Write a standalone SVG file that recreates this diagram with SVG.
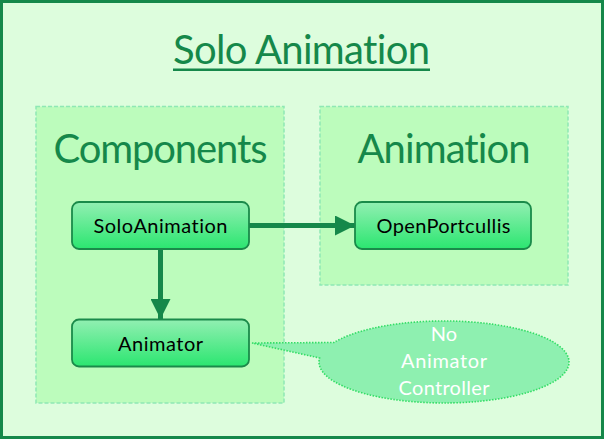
<svg xmlns="http://www.w3.org/2000/svg" width="604" height="439" viewBox="0 0 604 439">
<defs>
<linearGradient id="ng" x1="0" y1="0" x2="0" y2="1">
<stop offset="0" stop-color="#92efb2"/>
<stop offset="1" stop-color="#2be670"/>
</linearGradient>
<marker id="ah" markerWidth="4" markerHeight="4" refX="4" refY="2" orient="auto" markerUnits="strokeWidth" viewBox="0 0 4 4">
<path d="M0,0 L4,2 L0,4 Z" fill="#15884a"/>
</marker>
<style>
.t{font-family:"Lato","Open Sans","Liberation Sans",sans-serif;font-variant-ligatures:none;}
.head{fill:#15884a;font-size:40px;text-anchor:middle;}
.panel{fill:#bcfcbc;stroke:#8ee8b4;stroke-width:1.5;stroke-dasharray:4 2;}
.node{fill:url(#ng);stroke:#1a8a4a;stroke-width:1.8;}
.lbl{fill:#000;font-size:20px;text-anchor:middle;}
.conn{stroke:#15884a;stroke-width:5;fill:none;marker-end:url(#ah);}
.call{fill:#8ef0b0;stroke:#33dd66;stroke-width:1.6;stroke-dasharray:1.5 1.5;}
.ct{fill:#fff;font-size:20px;text-anchor:middle;}
</style>
</defs>
<rect x="1.5" y="1.5" width="601" height="436" fill="#ddfddd" stroke="#15884a" stroke-width="3"/>
<g id="title">
<text class="t" x="301.5" y="64" font-size="40" fill="#15884a" text-anchor="middle" textLength="257">Solo Animation</text>
<rect x="173" y="68.5" width="257" height="2.5" fill="#15884a"/>
</g>
<g id="components">
<rect class="panel" x="36" y="106.5" width="248" height="296.5"/>
<text class="t head" x="160.5" y="163" textLength="214">Components</text>
</g>
<g id="animation">
<rect class="panel" x="320" y="106.5" width="248" height="178.5"/>
<text class="t head" x="444" y="163" textLength="173">Animation</text>
</g>
<g id="connectors">
<line class="conn" x1="249" y1="225.5" x2="355" y2="225.5"/>
<line class="conn" x1="160.5" y1="249" x2="160.5" y2="319"/>
</g>
<g id="soloanimation">
<rect class="node" x="72" y="202" width="177" height="47" rx="7"/>
<text class="t lbl" x="160.5" y="233" textLength="134">SoloAnimation</text>
</g>
<g id="openportcullis">
<rect class="node" x="355" y="202" width="176" height="47" rx="7"/>
<text class="t lbl" x="443.5" y="233" textLength="134">OpenPortcullis</text>
</g>
<g id="animator">
<rect class="node" x="72" y="319.5" width="177" height="47" rx="7"/>
<text class="t lbl" x="160.5" y="350.5" textLength="85">Animator</text>
</g>
<g id="callout">
<path class="call" d="M252,343 L334,342.5 A125,41 0 1 1 319.6,358 Z"/>
<text class="t ct" x="444" y="341">No</text>
<text class="t ct" x="444" y="368" textLength="86">Animator</text>
<text class="t ct" x="444" y="395" textLength="91">Controller</text>
</g>
</svg>
